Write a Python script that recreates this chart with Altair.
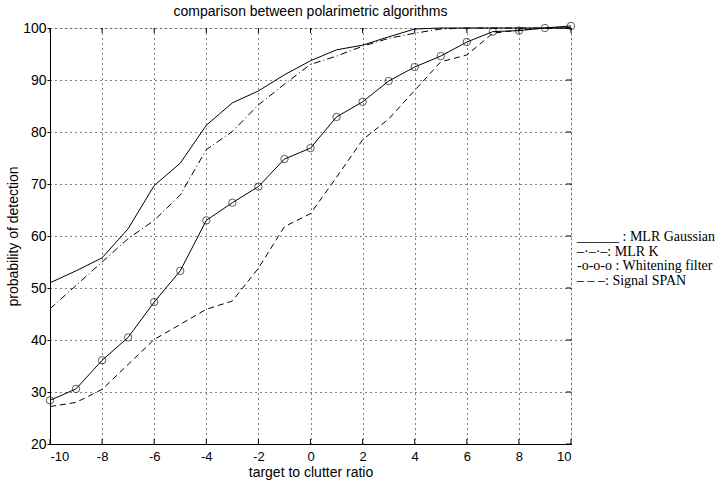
import altair as alt
import pandas as pd

x_vals = list(range(-10, 11))
mlr_gaussian = [51, 53.3, 55.8, 61.4, 69.7, 74.0, 81.3, 85.6, 87.9, 91.0, 93.7,
                95.8, 96.7, 98.3, 99.8, 100, 100, 100, 100, 100, 100]
mlr_k = [46.0, 50.5, 55.0, 59.5, 63.0, 67.9, 76.6, 80.1, 85.2, 89.2, 93.0,
         94.6, 96.5, 98.0, 99.0, 99.8, 100, 100, 100, 100, 100]
whitening = [28.4, 30.6, 36.1, 40.5, 47.3, 53.3, 63.0, 66.4, 69.5, 74.8, 76.9,
             82.9, 85.8, 89.8, 92.5, 94.6, 97.3, 99.3, 99.5, 100, 100.4]
signal_span = [27.2, 28.0, 30.5, 35.3, 40.1, 43.0, 45.9, 47.5, 53.8, 61.8, 64.3,
               71.3, 78.5, 82.5, 88.0, 93.5, 94.8, 99.0, 99.6, 100, 100]

series_names = ["MLR Gaussian", "MLR K", "Whitening filter", "Signal SPAN"]
legend_texts = ["______ : MLR Gaussian", "–·–·–: MLR K",
                "-o-o-o : Whitening filter", " – – –: Signal SPAN"]
x_ticks = list(range(-10, 11, 2))
y_ticks = list(range(20, 101, 10))
title_text = "comparison between polarimetric algorithms"
x_title = "target to clutter ratio"
y_title = "probability of detection"

W, H = 521, 416
FONT = "Liberation Sans"

rows = []
for name, vals in zip(series_names, [mlr_gaussian, mlr_k, whitening, signal_span]):
    for xv, yv in zip(x_vals, vals):
        rows.append({"x": xv, "y": yv, "series": name})
df = pd.DataFrame(rows)

xs = alt.Scale(domain=[-10, 10], nice=False, zero=False)
ys = alt.Scale(domain=[20, 100], nice=False, zero=False)

X = alt.X("x:Q", scale=xs, axis=alt.Axis(values=x_ticks, title=x_title, grid=True,
        gridDash=[1, 4], gridColor="black", gridOpacity=1, gridWidth=1,
        domainColor="black", ticks=False, labelPadding=6, labelFontSize=13,
        labelExpr="replace(datum.label, '\u2212', '-')",
        labelColor="black", labelFont=FONT, titleFont=FONT, titleFontSize=14,
        titleFontWeight="normal", titleColor="black", titlePadding=2))
Y = alt.Y("y:Q", scale=ys, axis=alt.Axis(values=y_ticks, title=y_title, grid=True,
        gridDash=[1, 4], gridColor="black", gridOpacity=1, gridWidth=1,
        domainColor="black", tickColor="black", tickSize=3, labelPadding=1,
        labelFontSize=14, labelColor="black", labelFont=FONT, titleFont=FONT,
        titleFontSize=14, titleFontWeight="normal", titleColor="black", titlePadding=2))

def line_for(name, dash):
    props = dict(color="black", strokeWidth=1)
    if dash:
        props["strokeDash"] = dash
    return alt.Chart(df).transform_filter(alt.datum.series == name).mark_line(**props).encode(
        x=alt.X("x:Q", scale=xs), y=alt.Y("y:Q", scale=ys))

base = alt.Chart(df).transform_filter(alt.datum.series == "MLR Gaussian").mark_line(
    color="black", strokeWidth=1).encode(x=X, y=Y)
l_k = line_for("MLR K", [7, 3, 1, 3])
l_w = line_for("Whitening filter", None)
l_s = line_for("Signal SPAN", [6, 4])
pts = alt.Chart(df).transform_filter(alt.datum.series == "Whitening filter").mark_point(
    shape="circle", filled=False, color="black", size=55, strokeWidth=0.9).encode(
    x=alt.X("x:Q", scale=xs), y=alt.Y("y:Q", scale=ys))

xt = pd.DataFrame({"x": x_ticks})
yt = pd.DataFrame({"y": y_ticks})
tick_bottom = alt.Chart(xt).mark_rule(color="black").encode(
    x=alt.X("x:Q", scale=xs), y=alt.value(H), y2=alt.value(H - 5))
tick_top = alt.Chart(xt).mark_rule(color="black").encode(
    x=alt.X("x:Q", scale=xs), y=alt.value(0), y2=alt.value(5))
tick_right = alt.Chart(yt).mark_rule(color="black").encode(
    y=alt.Y("y:Q", scale=ys), x=alt.value(W), x2=alt.value(W - 5))

leg_y = [209, 223.5, 238, 252.5]
legend_layers = []
for txt, yy in zip(legend_texts, leg_y):
    legend_layers.append(
        alt.Chart(pd.DataFrame({"t": [txt]})).mark_text(
            align="left", baseline="middle", font="Liberation Serif",
            fontSize=14, color="black").encode(
            x=alt.value(W + 6), y=alt.value(yy), text="t:N"))

chart = alt.layer(base, l_k, l_w, l_s, pts, tick_bottom, tick_top, tick_right,
                  *legend_layers).properties(
    width=W, height=H,
    title=alt.TitleParams(title_text, font=FONT, fontSize=14, fontWeight="normal",
                          color="black", anchor="middle", offset=1),
    autosize=alt.AutoSizeParams(type="none"),
    padding={"left": 50, "top": 28, "right": 157, "bottom": 36},
).configure_view(stroke="black", strokeWidth=1).configure(background="white")

chart.save("out.html", embed_options={"renderer": "svg", "actions": False})
